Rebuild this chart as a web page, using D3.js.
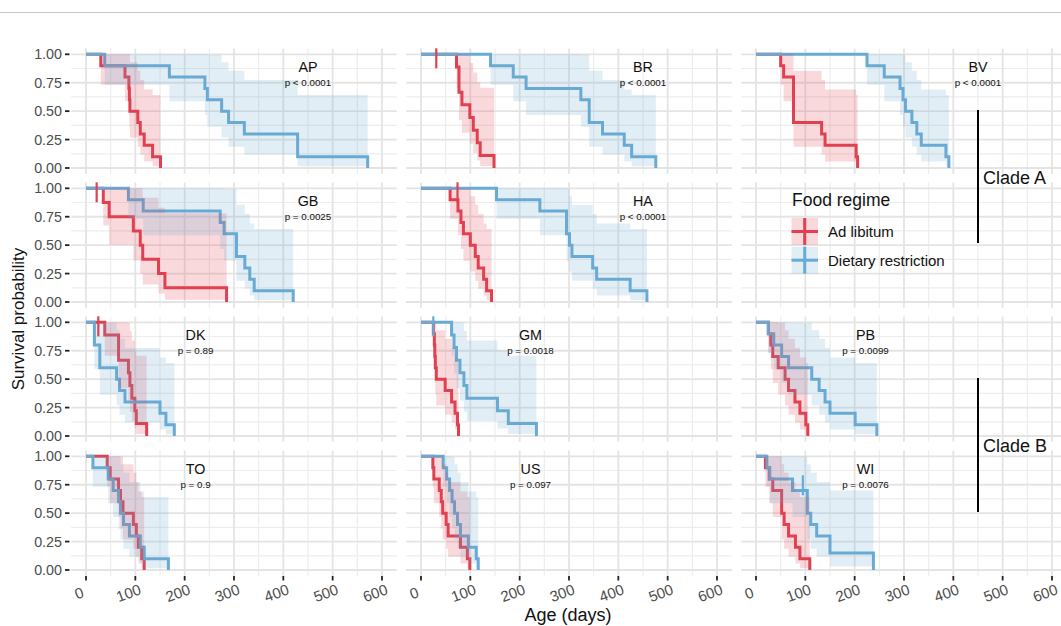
<!DOCTYPE html>
<html><head><meta charset="utf-8">
<script src="https://cdn.jsdelivr.net/npm/d3@7/dist/d3.min.js"></script>
<style>body{margin:0;background:#fff} svg{display:block} text{font-family:"Liberation Sans",Arial,Helvetica,sans-serif}</style>
</head><body>
<svg id="c" width="1061" height="626"></svg>
<script>
// ---------- DATA: rows are [time, survival, lower CI, upper CI] ----------
const AP_AL = [[0,1,1,1],[30,.9,.732,1],[79,.8,.587,1],[87,.7,.467,1],[88,.6,.362,.995],[89,.5,.269,.929],[105,.4,.187,.855],[110,.3,.116,.773],[118,.2,.058,.691],[135,.1,.016,.642],[151,0,0,0]];
const AP_DR = [[0,1,1,1],[38,.9,.732,1],[169,.8,.587,1],[241,.7,.467,1],[246,.6,.362,.995],[275,.5,.269,.929],[289,.4,.187,.855],[321,.3,.116,.773],[429,.1,.016,.642],[571,0,0,0]];
const BR_AL = [[0,1,1,1],[72,.889,.705,1],[77,.667,.42,1],[83,.556,.31,.997],[99,.444,.214,.923],[106,.333,.132,.84],[114,.222,.065,.754],[120,.111,.0175,.705],[148,0,0,0]];
const BR_DR = [[0,1,1,1],[141,.9,.732,1],[187,.8,.587,1],[213,.7,.467,1],[324,.6,.362,.995],[341,.4,.187,.855],[368,.3,.116,.773],[412,.2,.058,.691],[427,.1,.016,.642],[476,0,0,0]];
const BV_AL = [[0,1,1,1],[50,.9,.732,1],[56,.8,.587,1],[76,.4,.187,.855],[133,.3,.116,.773],[140,.2,.058,.691],[203,.1,.016,.642],[206,0,0,0]];
const BV_DR = [[0,1,1,1],[225,.9,.732,1],[260,.8,.587,1],[292,.7,.467,1],[298,.6,.362,.995],[303,.5,.269,.929],[316,.4,.187,.855],[326,.3,.116,.773],[335,.2,.058,.691],[385,.1,.016,.642],[391,0,0,0]];
const GB_AL = [[0,1,1,1],[35,.875,.673,1],[47,.75,.503,1],[96,.625,.365,1],[110,.5,.25,1],[115,.375,.153,.917],[147,.25,.075,.83],[160,.125,.02,.78],[285,0,0,0]];
const GB_DR = [[0,1,1,1],[86,.9,.732,1],[116,.8,.587,1],[272,.7,.467,1],[280,.6,.362,.995],[305,.4,.187,.855],[322,.3,.116,.773],[332,.2,.058,.691],[341,.1,.016,.642],[420,0,0,0]];
const HA_AL = [[0,1,1,1],[59,.9,.732,1],[75,.8,.587,1],[81,.7,.467,1],[86,.6,.362,.995],[100,.5,.269,.929],[110,.4,.187,.855],[116,.3,.116,.773],[127,.2,.058,.691],[133,.1,.016,.642],[143,0,0,0]];
const HA_DR = [[0,1,1,1],[153,.9,.732,1],[241,.8,.587,1],[295,.6,.362,.995],[301,.5,.269,.929],[306,.4,.187,.855],[348,.3,.116,.773],[356,.2,.058,.691],[424,.1,.016,.642],[458,0,0,0]];
const DK_AL = [[0,1,1,1],[38,.889,.705,1],[66,.667,.42,1],[86,.556,.31,.997],[89,.444,.214,.923],[93,.333,.132,.84],[99,.222,.065,.754],[102,.111,.0175,.705],[123,0,0,0]];
const DK_DR = [[0,1,1,1],[17,.8,.587,1],[28,.6,.362,.995],[62,.5,.269,.929],[68,.4,.187,.855],[79,.3,.116,.773],[150,.2,.058,.691],[162,.1,.016,.642],[179,0,0,0]];
const GM_AL = [[0,1,1,1],[25,.9,.732,1],[27,.8,.587,1],[28,.7,.467,1],[29,.6,.362,.995],[31,.5,.269,.929],[49,.4,.187,.855],[62,.3,.116,.773],[69,.2,.058,.691],[74,.1,.016,.642],[76,0,0,0]];
const GM_DR = [[0,1,1,1],[62,.889,.705,1],[67,.778,.549,1],[72,.667,.42,1],[79,.556,.31,.997],[87,.444,.214,.923],[93,.333,.132,.84],[155,.222,.065,.754],[177,.111,.0175,.705],[234,0,0,0]];
const PB_AL = [[0,1,1,1],[25,.9,.732,1],[30,.8,.587,1],[34,.7,.467,1],[45,.6,.362,.995],[59,.5,.269,.929],[66,.4,.187,.855],[79,.3,.116,.773],[89,.2,.058,.691],[101,.1,.016,.642],[105,0,0,0]];
const PB_DR = [[0,1,1,1],[25,.9,.732,1],[36,.8,.587,1],[52,.7,.467,1],[66,.6,.362,.995],[113,.5,.269,.929],[128,.4,.187,.855],[140,.3,.116,.773],[150,.2,.058,.691],[201,.1,.016,.642],[245,0,0,0]];
const TO_AL = [[0,1,1,1],[43,.9,.732,1],[49,.8,.587,1],[66,.7,.467,1],[70,.6,.362,.995],[75,.5,.269,.929],[96,.4,.187,.855],[102,.3,.116,.773],[106,.2,.058,.691],[113,.1,.016,.642],[118,0,0,0]];
const TO_DR = [[0,1,1,1],[14,.9,.732,1],[45,.8,.587,1],[55,.7,.467,1],[66,.6,.362,.995],[70,.5,.269,.929],[76,.4,.187,.855],[88,.3,.116,.773],[110,.2,.058,.691],[118,.1,.016,.642],[167,0,0,0]];
const US_AL = [[0,1,1,1],[24,.9,.732,1],[26,.8,.587,1],[37,.7,.467,1],[41,.6,.362,.995],[44,.5,.269,.929],[51,.4,.187,.855],[55,.3,.116,.773],[80,.2,.058,.691],[94,.1,.016,.642],[99,0,0,0]];
const US_DR = [[0,1,1,1],[45,.9,.732,1],[52,.8,.587,1],[58,.7,.467,1],[63,.6,.362,.995],[68,.5,.269,.929],[74,.4,.187,.855],[80,.3,.116,.773],[96,.2,.058,.691],[112,.1,.016,.642],[116,0,0,0]];
const WI_AL = [[0,1,1,1],[19,.9,.732,1],[27,.8,.587,1],[34,.7,.467,1],[52,.5,.269,.929],[57,.4,.187,.855],[66,.3,.116,.773],[80,.2,.058,.691],[89,.1,.016,.642],[109,0,0,0]];
const WI_DR = [[0,1,1,1],[22,.9,.732,1],[28,.8,.587,1],[74,.7,.467,1],[104,.5,.269,.929],[111,.4,.187,.855],[123,.3,.116,.773],[150,.15,.03,.7],[238,0,0,0]];

// censored observations [time, survival]
const BR_AL_cens = [[31,1]];
const GB_AL_cens = [[21.6,1]];
const DK_AL_cens = [[25,1]];
const GM_DR_cens = [[25,1]];
const HA_AL_cens = [[74,1]];
const WI_DR_cens = [[95,.78]];

const panelNames = ["AP","BR","BV","GB","HA","DK","GM","PB","TO","US","WI"];
const pValues = ["p < 0.0001","p < 0.0001","p < 0.0001","p = 0.0025","p < 0.0001","p = 0.89","p = 0.0018","p = 0.0099","p = 0.9","p = 0.097","p = 0.0076"];
const groups = ["Ad libitum","Dietary restriction"];
const xTicks = [0,100,200,300,400,500,600];
const yTicks = [0,0.25,0.5,0.75,1];
const yTickLabels = ["0.00","0.25","0.50","0.75","1.00"];
const clades = ["Clade A","Clade B"];

const curves = {
  AP:[AP_AL,AP_DR], BR:[BR_AL,BR_DR], BV:[BV_AL,BV_DR], GB:[GB_AL,GB_DR], HA:[HA_AL,HA_DR],
  DK:[DK_AL,DK_DR], GM:[GM_AL,GM_DR], PB:[PB_AL,PB_DR], TO:[TO_AL,TO_DR], US:[US_AL,US_DR], WI:[WI_AL,WI_DR]
};
const censors = { BR:[BR_AL_cens,[]], GB:[GB_AL_cens,[]], DK:[DK_AL_cens,[]], GM:[[],GM_DR_cens], HA:[HA_AL_cens,[]], WI:[[],WI_DR_cens] };
// grid placement (row, col)
const place = {AP:[0,0],BR:[0,1],BV:[0,2],GB:[1,0],HA:[1,1],DK:[2,0],GM:[2,1],PB:[2,2],TO:[3,0],US:[3,1],WI:[3,2]};

// ---------- LAYOUT ----------
const colors = ["#E0404F","#68ABD4"];
const svg = d3.select("#c");
const colX0 = [86,421,756];
const rowY0 = [168,302,436,570];
const pxDay = 0.4933, hU = 113.7;
const xScale = c => d3.scaleLinear().domain([-30,630]).range([colX0[c]-30*pxDay, colX0[c]+630*pxDay]);
const yScale = r => d3.scaleLinear().domain([0,1]).range([rowY0[r], rowY0[r]-hU]);

svg.append("rect").attr("width",1061).attr("height",626).attr("fill","#fff");
svg.append("line").attr("x1",0).attr("x2",1061).attr("y1",12.5).attr("y2",12.5).attr("stroke","#c6c6c6").attr("stroke-width",1);

const defs = svg.append("defs");

for (let r=0;r<4;r++) for (let c=0;c<3;c++) {
  const x = xScale(c), y = yScale(r);
  const g = svg.append("g");
  const x0 = x(-30), x1 = x(630), yT = y(1.05), yB = y(-0.05);
  // minor grid
  [50,150,250,350,450,550].forEach(v=>g.append("line").attr("x1",x(v)).attr("x2",x(v)).attr("y1",yT).attr("y2",yB).attr("stroke","#ededed").attr("stroke-width",1.2));
  [0.125,0.375,0.625,0.875].forEach(v=>g.append("line").attr("y1",y(v)).attr("y2",y(v)).attr("x1",x0).attr("x2",x1).attr("stroke","#ededed").attr("stroke-width",1.2));
  xTicks.forEach(v=>g.append("line").attr("x1",x(v)).attr("x2",x(v)).attr("y1",yT).attr("y2",yB).attr("stroke","#e4e4e4").attr("stroke-width",1.8));
  yTicks.forEach(v=>g.append("line").attr("y1",y(v)).attr("y2",y(v)).attr("x1",x0).attr("x2",x1).attr("stroke","#e4e4e4").attr("stroke-width",1.8));
  defs.append("clipPath").attr("id",`clip${r}${c}`).append("rect").attr("x",x0).attr("y",yT).attr("width",x1-x0).attr("height",yB-yT);
  if (c===0) {
    const ax = svg.append("g");
    yTicks.forEach((v,i)=>{
      ax.append("line").attr("x1",65).attr("x2",69.5).attr("y1",y(v)).attr("y2",y(v)).attr("stroke","#222").attr("stroke-width",1.8);
      ax.append("text").attr("x",62).attr("y",y(v)).attr("dy","0.36em").attr("text-anchor","end").attr("font-size",14.3).attr("fill","#4d4d4d").text(yTickLabels[i]);
    });
  }
  if (r===3) {
    const ax = svg.append("g");
    xTicks.forEach(v=>{
      ax.append("line").attr("x1",x(v)).attr("x2",x(v)).attr("y1",576).attr("y2",580.5).attr("stroke","#222").attr("stroke-width",1.8);
      ax.append("text").attr("transform",`translate(${x(v)-5},598) rotate(-20)`).attr("text-anchor","middle").attr("font-size",15).attr("fill","#4d4d4d").text(v);
    });
  }
}

const line = (x,y) => d3.line().curve(d3.curveStepAfter).x(d=>x(d[0])).y(d=>y(d[1]));
const area = (x,y) => d3.area().curve(d3.curveStepAfter).x(d=>x(d[0])).y0(d=>y(d[2])).y1(d=>y(d[3]));

panelNames.forEach((name,i)=>{
  const [r,c] = place[name];
  const x = xScale(c), y = yScale(r);
  const g = svg.append("g").attr("clip-path",`url(#clip${r}${c})`);
  const cs = curves[name];
  // lines first
  cs.forEach((d,k)=>g.append("path").attr("d",line(x,y)(d)).attr("fill","none").attr("stroke",colors[k]).attr("stroke-width",3));
  // confidence ribbons on top
  cs.forEach((d,k)=>{
    const pts = d.slice(0,d.length-1);
    const last = d[d.length-1], prev = d[d.length-2];
    pts.push([last[0],0,prev[2],prev[3]]);
    g.append("path").attr("d",area(x,y)(pts)).attr("fill",colors[k]).attr("fill-opacity",0.2).attr("stroke","none");
  });
  // censor marks
  if (censors[name]) censors[name].forEach((arr,k)=>arr.forEach(p=>{
    svg.append("line").attr("x1",x(p[0])).attr("x2",x(p[0])).attr("y1",y(p[1])-6).attr("y2",y(p[1])+14).attr("stroke",colors[k]).attr("stroke-width",2.2);
  }));
  const lx = r<2 ? 450 : 222;
  svg.append("text").attr("x",x(lx)).attr("y",y(0.89)).attr("dy","0.36em").attr("text-anchor","middle").attr("font-size",14.3).attr("fill","#111").text(name);
  svg.append("text").attr("x",x(lx)).attr("y",y(0.748)).attr("dy","0.36em").attr("text-anchor","middle").attr("font-size",9.8).attr("fill","#111").text(pValues[i]);
});

// legend in empty panel (row 2, col 3)
const lg = svg.append("g");
lg.append("text").attr("x",792).attr("y",200).attr("dy","0.36em").attr("font-size",17.5).attr("fill","#111").text("Food regime");
groups.forEach((gname,k)=>{
  const ky = 218 + k*28.7;
  lg.append("rect").attr("x",791.5).attr("y",ky).attr("width",26.5).attr("height",27).attr("fill",colors[k]).attr("fill-opacity",0.2);
  lg.append("line").attr("x1",791.5).attr("x2",818).attr("y1",ky+13.5).attr("y2",ky+13.5).attr("stroke",colors[k]).attr("stroke-width",3);
  lg.append("line").attr("x1",804.7).attr("x2",804.7).attr("y1",ky).attr("y2",ky+27).attr("stroke",colors[k]).attr("stroke-width",3);
  lg.append("text").attr("x",828).attr("y",ky+13.5).attr("dy","0.36em").attr("font-size",15).attr("fill","#111").text(gname);
});

// clade annotations
[[110,243],[378,512]].forEach((seg,k)=>{
  svg.append("line").attr("x1",978).attr("x2",978).attr("y1",seg[0]).attr("y2",seg[1]).attr("stroke","#000").attr("stroke-width",2);
  svg.append("text").attr("x",983).attr("y",(seg[0]+seg[1])/2+1).attr("dy","0.36em").attr("font-size",18).attr("fill","#111").text(clades[k]);
});

// axis titles
svg.append("text").attr("x",568).attr("y",621).attr("text-anchor","middle").attr("font-size",18).attr("fill","#111").text("Age (days)");
svg.append("text").attr("transform","translate(24,319) rotate(-90)").attr("text-anchor","middle").attr("font-size",17).attr("fill","#111").text("Survival probability");
</script>
</body></html>
